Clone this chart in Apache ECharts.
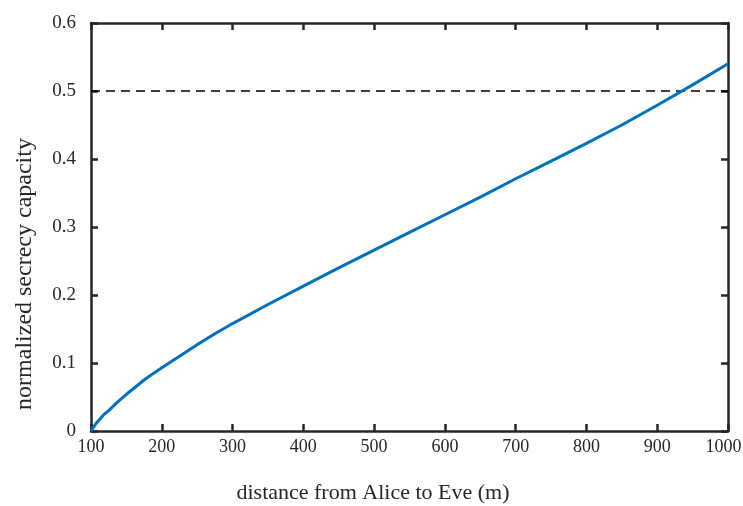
<!DOCTYPE html>
<html>
<head>
<meta charset="utf-8">
<script src="https://cdn.jsdelivr.net/npm/echarts@6/dist/echarts.min.js"></script>
<style>
  html, body { margin: 0; padding: 0; background: #fff; }
  #chart { width: 743px; height: 506px; }
</style>
</head>
<body>
<div id="chart"></div>
<script>
// distance from Alice to Eve (m)
var distance = [100, 103, 107, 112, 118, 125, 137, 150, 162, 175, 187, 200, 225, 250, 275, 300, 350, 400, 450, 500, 550, 600, 650, 700, 750, 800, 850, 900, 950, 1000];
// normalized secrecy capacity
var capacity = [0, 0.005, 0.011, 0.017, 0.024, 0.030, 0.042, 0.054, 0.064, 0.075, 0.084, 0.093, 0.110, 0.127, 0.143, 0.158, 0.186, 0.213, 0.240, 0.266, 0.292, 0.318, 0.344, 0.371, 0.397, 0.423, 0.450, 0.479, 0.509, 0.540];
// reference level
var refLevel = 0.5;

var axisColor = '#262626';
var font = '"Liberation Serif", "Times New Roman", serif';

var chart = echarts.init(document.getElementById('chart'));

var curve = distance.map(function (d, i) { return [d, capacity[i]]; });
var refLine = [[100, refLevel], [1000, refLevel]];

function frameAxis(extra) {
  var base = {
    axisLine: { show: true, onZero: false, lineStyle: { color: axisColor, width: 2.5 } },
    axisTick: { show: true, inside: true, length: 7, lineStyle: { color: axisColor, width: 2.5 } },
    splitLine: { show: false },
    axisLabel: { show: false }
  };
  return Object.assign(base, extra);
}

var option = {
  animation: false,
  grid: { left: 91, right: 15, top: 23, bottom: 75, containLabel: false, outerBoundsMode: 'none' },
  textStyle: { fontFamily: font },
  xAxis: [
    frameAxis({
      type: 'value', min: 100, max: 1000, interval: 100, position: 'bottom',
      axisLabel: { show: true, color: '#262626', fontFamily: font, fontSize: 18, margin: 7,
        formatter: function (v) { return v === 1000 ? '{last|1000}' : String(v); },
        rich: { last: { fontFamily: font, fontSize: 18, color: '#262626', padding: [0, 9, 0, 0] } } }
    }),
    frameAxis({ type: 'value', min: 100, max: 1000, interval: 100, position: 'top' })
  ],
  yAxis: [
    frameAxis({
      type: 'value', min: 0, max: 0.6, interval: 0.1, position: 'left',
      axisLabel: { show: true, color: '#262626', fontFamily: font, fontSize: 19, margin: 15,
        formatter: function (v) { return v === 0 ? '0' : v.toFixed(1); },
        padding: [0, 0, 11, 0] }
    }),
    frameAxis({ type: 'value', min: 0, max: 0.6, interval: 0.1, position: 'right' })
  ],
  graphic: [
    { type: 'text', x: 373, y: 493,
      style: { text: 'distance from Alice to Eve (m)', font: '22px ' + font, fill: '#262626', align: 'center', verticalAlign: 'middle' } },
    { type: 'text', x: 25, y: 274, rotation: Math.PI / 2,
      style: { text: 'normalized secrecy capacity', font: '24px ' + font, fill: '#262626', align: 'center', verticalAlign: 'middle' } }
  ],
  series: [
    {
      type: 'line', data: refLine, symbol: 'none', silent: true,
      lineStyle: { color: '#000', width: 1.5, type: [9, 6] }
    },
    {
      type: 'line', data: curve, symbol: 'none', smooth: false, silent: true,
      lineStyle: { color: '#0072BD', width: 3, join: 'round' }
    }
  ]
};

chart.setOption(option);
</script>
</body>
</html>
